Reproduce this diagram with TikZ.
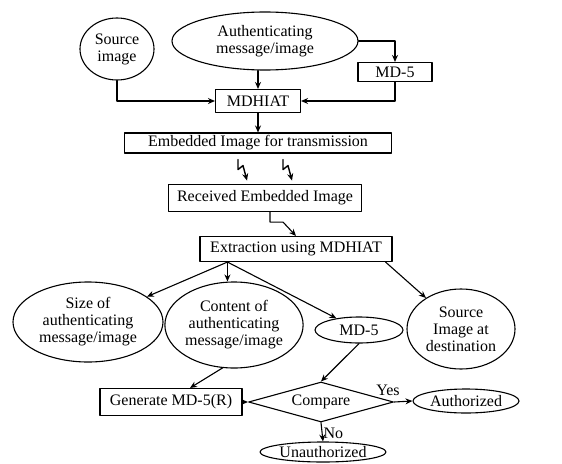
\documentclass[tikz,border=0pt]{standalone}
\usepackage{fontspec}
\setmainfont{Liberation Serif}
\usetikzlibrary{calc,positioning,shapes.geometric,arrows.meta}

\begin{document}
\begin{tikzpicture}[x=1pt,y=-1pt,line cap=round,line join=round,
  font=\fontsize{16}{17}\selectfont,
  box/.style={draw,line width=1.1pt,inner sep=0pt},
  oval/.style={draw,ellipse,line width=1.1pt,inner sep=0pt,align=center},
  decision/.style={draw,diamond,aspect=3.6,line width=1.1pt,inner sep=0pt},
  arr/.style={line width=1.1pt,-{Stealth[length=7pt,width=6pt]}}]
  \useasboundingbox (0,0) rectangle (562,463);

  \node[oval,minimum width=74,minimum height=62] (src) at (117,49) {Source\\image};
  \node[oval,minimum width=186,minimum height=58] (auth) at (265,41) {Authenticating\\message/image};
  \node[box,minimum width=74,minimum height=19] (md5a) at (395,72) {MD-5};
  \node[box,minimum width=85,minimum height=23] (mdhiat) at (258,101) {MDHIAT};
  \node[box,minimum width=267,minimum height=20] (embed) at (258,143) {Embedded Image for transmission};
  \node[box,minimum width=193,minimum height=27] (recv) at (265,198) {Received Embedded Image};
  \node[box,minimum width=192,minimum height=25] (extract) at (296,249) {Extraction using MDHIAT};

  \node[oval,minimum width=150,minimum height=80] (size) at (88,322) {Size of\\authenticating\\message/image};
  \node[oval,minimum width=138,minimum height=86] (content) at (234,325) {Content of\\authenticating\\message/image};
  \node[oval,minimum width=88,minimum height=26] (md5b) at (359,330) {MD-5};
  \node[oval,minimum width=108,minimum height=80] (dest) at (461,329) {Source\\Image at\\destination};

  \node[box,minimum width=142,minimum height=27] (genmd5) at (171,402) {Generate MD-5(R)};
  \node[decision,minimum width=145,minimum height=40] (compare) at (321,402) {Compare};
  \node[oval,minimum width=106,minimum height=24] (authd) at (466,401) {Authorized};
  \node[oval,minimum width=126,minimum height=20] (unauth) at (323,452) {Unauthorized};

  % embedding side
  \draw[arr] (src.south) |- (mdhiat.west);
  \draw[arr] (auth.east) -| (md5a.north);
  \draw[arr] (md5a.south) |- (mdhiat.east);
  \draw[arr] (auth.south -| mdhiat.north) -- (mdhiat.north);
  \draw[arr] (mdhiat.south) -- (embed.north);

  % transmission
  \coordinate (t1) at ($(embed.south)+(-20,6)$);
  \coordinate (t2) at ($(embed.south)+(25,6)$);
  \draw[arr,line width=1.4pt] (t1) -- ++(0,10) -- ++(5,-4) -- ++(4,15);
  \draw[arr,line width=1.4pt] (t2) -- ++(0,10) -- ++(5,-4) -- ++(4,15);

  % extraction side
  \draw[arr] ($(recv.south)+(5,0)$) -- ++(0,10) -- ++(13,0) -- (extract.north);
  \coordinate (ex) at ($(extract.south west)+(28,0)$);
  \draw[arr] (ex) -- (size);
  \draw[arr] (ex) -- (ex |- content.north);
  \draw[arr] (ex) -- (md5b);
  \draw[arr] ($(extract.south east)+(-7,0)$) -- (dest);

  % verification
  \draw[arr] (content.255) -- ($(genmd5.north)+(19,0)$);
  \draw[arr] (md5b.south) -- (compare.north);
  \draw[arr] (genmd5.east) -- (compare.west);
  \draw[arr] (compare.east) -- node[pos=0,above,xshift=-6pt,yshift=2pt] {Yes} (authd.west);
  \draw[arr] (compare.south) -- node[right,pos=0.55,inner sep=1pt] {No} (unauth.north);
\end{tikzpicture}
\end{document}
